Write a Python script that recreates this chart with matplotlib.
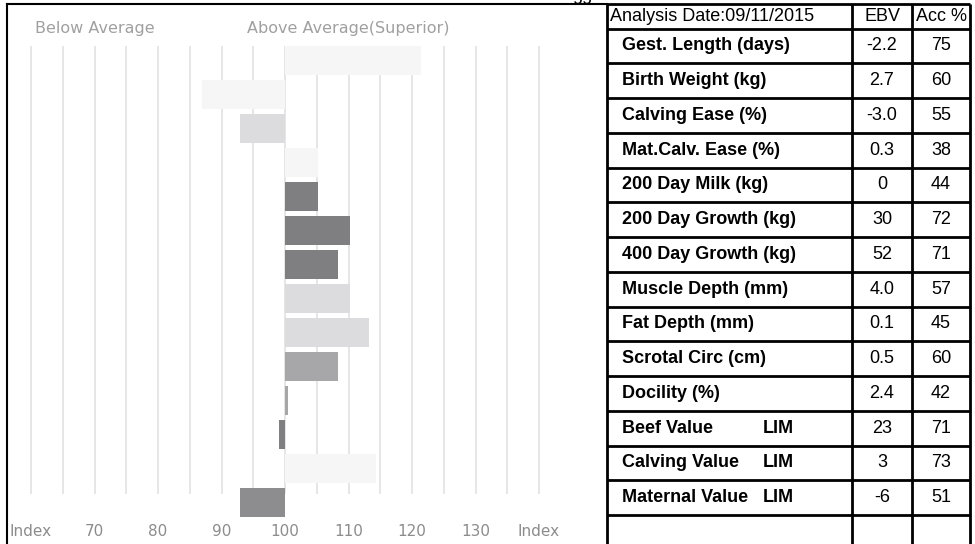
import matplotlib
matplotlib.use('Agg')
import matplotlib.pyplot as plt

# bar index values (100 = breed average)
traits = ['Gest. Length (days)', 'Birth Weight (kg)', 'Calving Ease (%)',
          'Mat.Calv. Ease (%)', '200 Day Milk (kg)', '200 Day Growth (kg)',
          '400 Day Growth (kg)', 'Muscle Depth (mm)', 'Fat Depth (mm)',
          'Scrotal Circ (cm)', 'Docility (%)', 'Beef Value',
          'Calving Value', 'Maternal Value']
breed = ['', '', '', '', '', '', '', '', '', '', '', 'LIM', 'LIM', 'LIM']
ebv = ['-2.2', '2.7', '-3.0', '0.3', '0', '30', '52', '4.0', '0.1', '0.5',
       '2.4', '23', '3', '-6']
acc = [75, 60, 55, 38, 44, 72, 71, 57, 45, 60, 42, 71, 73, 51]
index = [121.4, 87.0, 92.9, 105.2, 105.2, 110.2, 108.3, 110.2, 113.2, 108.3,
         100.5, 99.0, 114.3, 92.9]
bar_colors = ['#f6f6f6', '#f6f6f6', '#dcdcde', '#f6f6f6', '#7f7f82', '#7f7f82',
              '#7f7f82', '#dcdcde', '#dcdcde', '#a7a7a9', '#a7a7a9', '#7f7f82',
              '#f6f6f6', '#8d8d90']
tick_pos = [60, 70, 80, 90, 100, 110, 120, 130, 140]
tick_lab = ['Index', '70', '80', '90', '100', '110', '120', '130', 'Index']

W, H = 975, 544
fig = plt.figure(figsize=(W / 100, H / 100), dpi=100)

# ---- left: index bars ----
ppu = 6.35  # pixels per index unit
ax = fig.add_axes([7 / W, 0, 600 / W, 540 / H])
ax.set_xlim(100 - 278 / ppu, 100 + 322 / ppu)
ax.set_ylim((544 - 60.3) / 34, (4 - 60.3) / 34)
rows = list(range(len(index)))

ax.vlines(range(60, 141, 5), -0.43, 12.75, color='#e4e4e4', lw=1.3, zorder=0)
ax.barh(rows, [v - 100 for v in index], left=100, height=0.87,
        color=bar_colors, zorder=2)

for p, t in zip(tick_pos, tick_lab):
    ax.text(p, 13.85, t, ha='center', va='center', fontsize=11, color='#8c8c8c')
ax.text(70, -0.95, 'Below Average', ha='center', va='center', fontsize=11.5, color='#a0a0a0')
ax.text(110, -0.95, 'Above Average(Superior)', ha='center', va='center', fontsize=11.5, color='#a0a0a0')

for s in ['right', 'bottom']:
    ax.spines[s].set_visible(False)
ax.spines['left'].set_linewidth(1.5)
ax.spines['top'].set_linewidth(1.5)
ax.set_xticks([])
ax.set_yticks([])

# ---- right: table ----
tx = fig.add_axes([0, 0, 1, 1])
tx.set_xlim(0, W)
tx.set_ylim(H, 0)
tx.axis('off')
x0, c1, c2, x1 = 607, 852, 912, 970
pitch = 34.75
first = 28.5
lines_y = [4] + [first + pitch * k for k in range(len(traits) + 1)]
tx.hlines(lines_y, x0, x1, color='black', lw=2)
tx.vlines([x0, c1, c2, x1], 4, H, color='black', lw=2)

fs = 13
font = 'Liberation Sans'
tx.text(610, 16.5, 'Analysis Date:09/11/2015', ha='left', va='center', fontsize=fs, family=font)
tx.text((c1 + c2) / 2, 16.5, 'EBV', ha='center', va='center', fontsize=fs, family=font)
tx.text((c2 + x1) / 2, 16.5, 'Acc %', ha='center', va='center', fontsize=fs, family=font)
for k in range(len(traits)):
    y = first + pitch * (k + 0.5)
    tx.text(622, y, traits[k], ha='left', va='center', fontsize=fs, family=font, weight='bold')
    if breed[k]:
        tx.text(763, y, breed[k], ha='left', va='center', fontsize=fs, family=font, weight='bold')
    tx.text((c1 + c2) / 2, y, ebv[k], ha='center', va='center', fontsize=fs, family=font)
    tx.text((c2 + x1) / 2, y, str(acc[k]), ha='center', va='center', fontsize=fs, family=font)

# clipped text remnant at the very top
tx.text(572, 0.5, 'gg', ha='left', va='baseline', fontsize=fs, family=font)

fig.savefig('out.png', dpi=100)
